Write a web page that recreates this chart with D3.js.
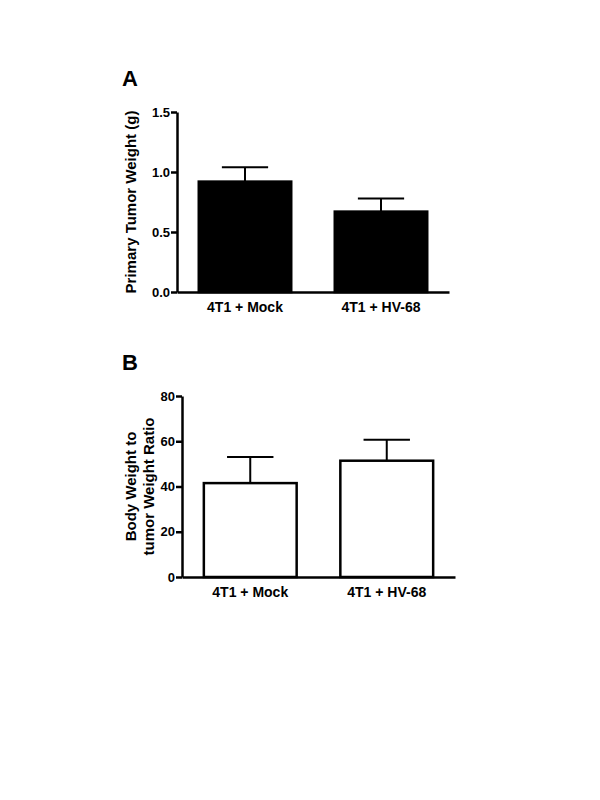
<!DOCTYPE html>
<html>
<head>
<meta charset="utf-8">
<script src="https://cdn.jsdelivr.net/npm/d3@7"></script>
<style>
  body { margin: 0; background: #fff; }
  text { font-family: "Liberation Sans", Arial, sans-serif; font-weight: bold; fill: #000; }
</style>
</head>
<body>
<div id="chart"></div>
<script>
// data
var groups = ["4T1 + Mock", "4T1 + HV-68"];
var tumorWeight = [0.92, 0.67];
var tumorWeightSem = [0.12, 0.11];
var ratio = [41.5, 51.4];
var ratioSem = [11.5, 9.3];
var ticksA = [0, 0.5, 1.0, 1.5];
var ticksB = [0, 20, 40, 60, 80];

var svg = d3.select("#chart").append("svg")
    .attr("width", 600)
    .attr("height", 800);

function drawPanel(opt) {
  var x = d3.scaleBand()
    .domain(groups)
    .range([opt.left, opt.right])
    .paddingInner(0.32)
    .paddingOuter(0.16);

  var y = d3.scaleLinear()
    .domain(opt.domain)
    .range([opt.bottom, opt.top]);

  var g = svg.append("g");

  // bars
  g.selectAll(".bar")
    .data(opt.values)
  .enter().append("rect")
    .attr("x", function(d, i) { return x(groups[i]); })
    .attr("y", function(d) { return y(d); })
    .attr("width", x.bandwidth())
    .attr("height", function(d) { return y(0) - y(d); })
    .attr("fill", opt.fill)
    .attr("stroke", "#000")
    .attr("stroke-width", 2.5);

  // error bars (upper only)
  var err = g.selectAll(".err")
    .data(opt.values)
  .enter().append("g");

  err.append("line")
    .attr("x1", function(d, i) { return x(groups[i]) + x.bandwidth() / 2; })
    .attr("x2", function(d, i) { return x(groups[i]) + x.bandwidth() / 2; })
    .attr("y1", function(d) { return y(d); })
    .attr("y2", function(d, i) { return y(d + opt.sem[i]); })
    .attr("stroke", "#000")
    .attr("stroke-width", 2);

  err.append("line")
    .attr("x1", function(d, i) { return x(groups[i]) + x.bandwidth() / 4; })
    .attr("x2", function(d, i) { return x(groups[i]) + x.bandwidth() * 3 / 4; })
    .attr("y1", function(d, i) { return y(d + opt.sem[i]); })
    .attr("y2", function(d, i) { return y(d + opt.sem[i]); })
    .attr("stroke", "#000")
    .attr("stroke-width", 2);

  // y axis
  var yAxis = d3.axisLeft(y)
    .tickValues(opt.ticks)
    .tickFormat(opt.format)
    .tickSize(6)
    .tickSizeOuter(0);

  var ya = g.append("g")
    .attr("transform", "translate(" + opt.left + ",0)")
    .call(yAxis);
  ya.selectAll("path, line").attr("stroke", "#000").attr("stroke-width", 2.5);
  ya.selectAll("text").style("font-size", "13px").attr("x", -7);

  // x axis
  var xAxis = d3.axisBottom(x).tickSize(0).tickSizeOuter(0);
  var xa = g.append("g")
    .attr("transform", "translate(0," + opt.bottom + ")")
    .call(xAxis);
  xa.select("path").attr("stroke", "#000").attr("stroke-width", 2.5);
  xa.selectAll("text").style("font-size", "14px").attr("y", 10).attr("dy", "0.71em");

  // axis title
  var title = g.append("text")
    .attr("transform", "translate(" + opt.titleX + "," + ((opt.top + opt.bottom) / 2) + ") rotate(-90)")
    .attr("text-anchor", "middle")
    .style("font-size", "15px");
  opt.title.forEach(function(t, i) {
    title.append("tspan")
      .attr("x", 0)
      .attr("dy", i === 0 ? 0 : 18)
      .text(t);
  });

  // panel letter
  g.append("text")
    .attr("x", opt.letterX)
    .attr("y", opt.letterY)
    .style("font-size", "22px")
    .text(opt.letter);
}

drawPanel({
  letter: "A", letterX: 122, letterY: 86,
  left: 177, right: 449, top: 112, bottom: 292,
  domain: [0, 1.5], ticks: ticksA, format: d3.format(".1f"),
  values: tumorWeight, sem: tumorWeightSem, fill: "#000",
  title: ["Primary Tumor Weight (g)"], titleX: 136
});

drawPanel({
  letter: "B", letterX: 122, letterY: 370,
  left: 182, right: 455, top: 396, bottom: 577,
  domain: [0, 80], ticks: ticksB, format: d3.format("d"),
  values: ratio, sem: ratioSem, fill: "#fff",
  title: ["Body Weight to", "tumor Weight Ratio"], titleX: 136
});
</script>
</body>
</html>
